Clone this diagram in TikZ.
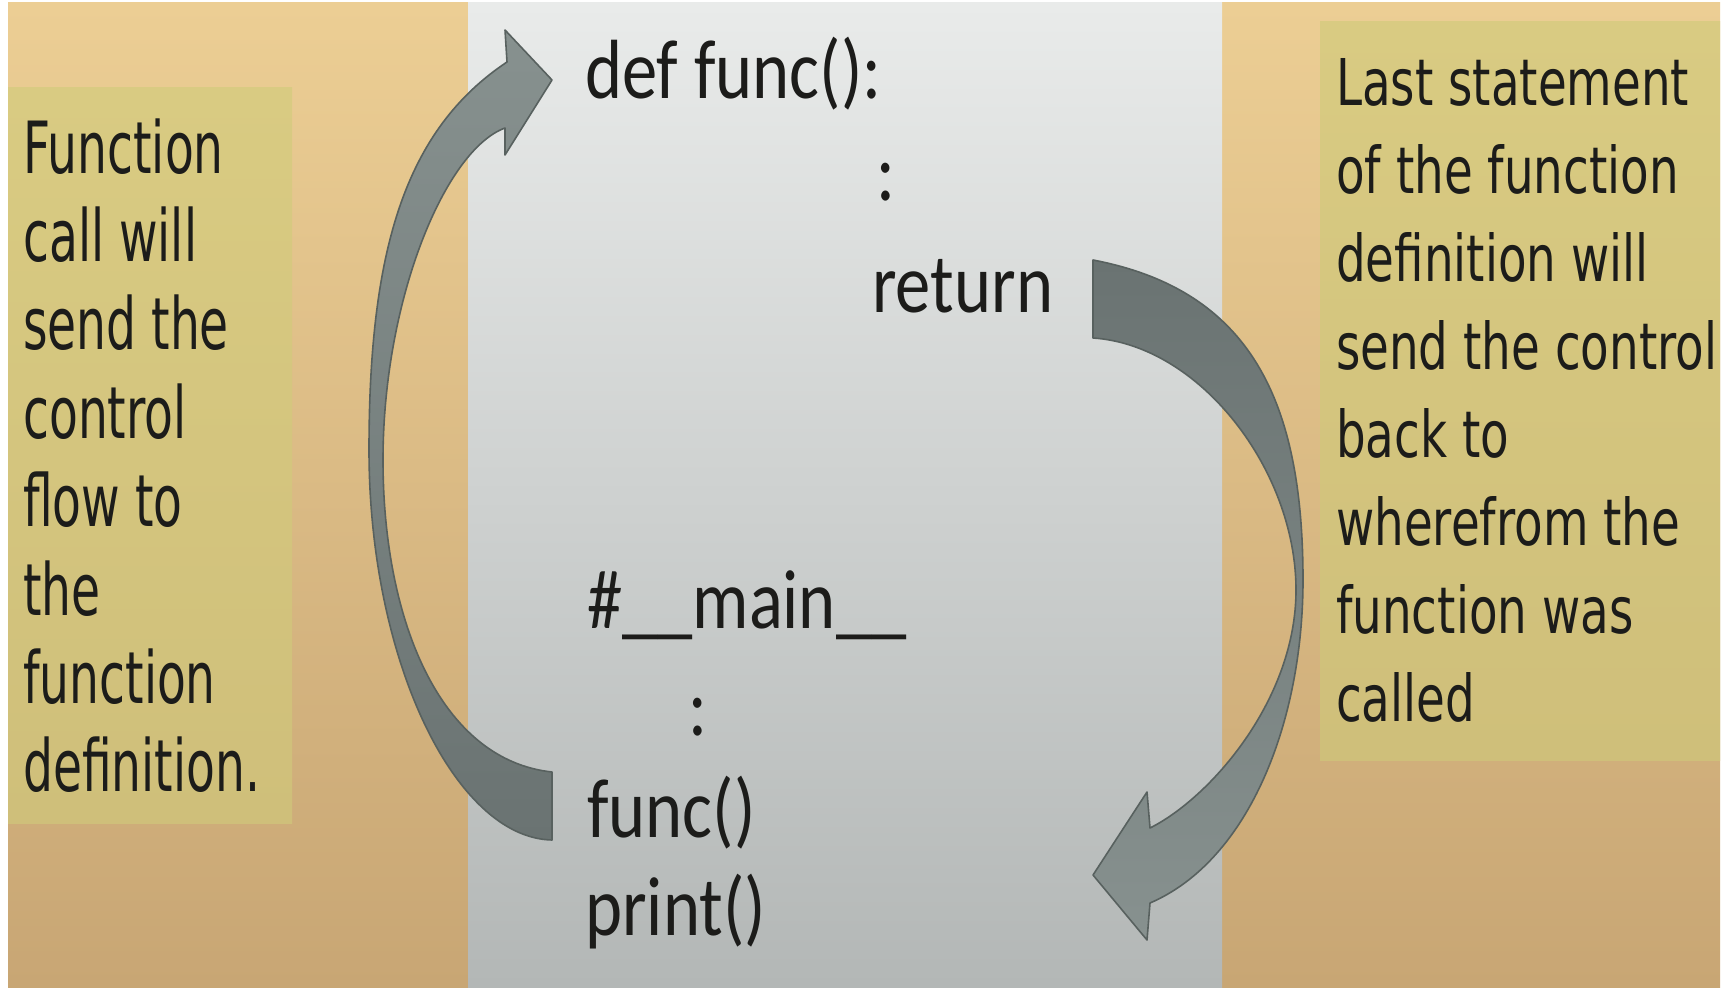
\documentclass[tikz,border=0pt]{standalone}
\usepackage{fontspec}
\newfontfamily\lfont[FakeStretch=0.655]{DejaVu Sans}
\newfontfamily\rfont[FakeStretch=0.725]{DejaVu Sans}
\newfontfamily\cfont[FakeStretch=0.84]{Carlito}
\definecolor{tanTop}{HTML}{ECCE94}
\definecolor{tanBot}{HTML}{C8A674}
\definecolor{oliveTop}{HTML}{D9CB82}
\definecolor{oliveBot}{HTML}{CFBF7A}
\definecolor{panelTop}{HTML}{E9EBEA}
\definecolor{panelBot}{HTML}{B3B7B6}
\definecolor{arrLight}{HTML}{87918F}
\definecolor{arrDark}{HTML}{6A7372}
\definecolor{arrLine}{HTML}{58615F}
\definecolor{txtc}{HTML}{1C1C1A}
\tikzset{
  ltxt/.style={anchor=base west, inner sep=0pt, text=txtc, font=\lfont\fontsize{72}{88}\selectfont},
  rtxt/.style={anchor=base west, inner sep=0pt, text=txtc, font=\rfont\fontsize{64.5}{88}\selectfont},
  ctxt/.style={anchor=base west, inner sep=0pt, text=txtc, font=\cfont\fontsize{84}{100}\selectfont},
  bigarrow/.style={draw=arrLine, line width=1.6pt, line join=round},
}
\begin{document}
\begin{tikzpicture}[x=1pt,y=-1pt]
\useasboundingbox (0,0) rectangle (1729,990);
\fill[white] (0,0) rectangle (1729,990);
% papyrus background
\shade[top color=tanTop, bottom color=tanBot] (8,3) rectangle (1720,987);
% central code panel
\shade[top color=panelTop, bottom color=panelBot] (468,3) rectangle (1222,987);
% side text boxes
\shade[top color=oliveTop, bottom color=oliveBot] (8,87) rectangle (292,823);
\shade[top color=oliveTop, bottom color=oliveBot] (1320,22) rectangle (1720,760);

% left curved arrow (call): tail at func(), head at def func()
\coordinate (lt1) at (552,772);
\coordinate (lt2) at (552,840);
\coordinate (lmo) at (369,450);
\coordinate (lmi) at (383,460);
\coordinate (lsh1) at (507,62);
\coordinate (lsh2) at (505,128);
\shadedraw[bigarrow, top color=arrLight, bottom color=arrDark]
  (lt1) -- (lt2)
  .. controls (455,838) and (369,660) .. (lmo)
  .. controls (369,250) and (405,130) .. (lsh1)
  -- (505,30) -- (552,80) -- (505,155) -- (lsh2)
  .. controls (445,150) and (383,300) .. (lmi)
  .. controls (383,620) and (440,760) .. (lt1)
  -- cycle;

% right curved arrow (return): tail at return, head at func()
\coordinate (rt1) at (1093,338);
\coordinate (rt2) at (1093,260);
\coordinate (rmo) at (1303,580);
\coordinate (rmi) at (1296,590);
\coordinate (rsh1) at (1150,903);
\coordinate (rsh2) at (1150,828);
\shadedraw[bigarrow, top color=arrDark, bottom color=arrLight]
  (rt1) -- (rt2)
  .. controls (1250,290) and (1303,400) .. (rmo)
  .. controls (1303,720) and (1250,860) .. (rsh1)
  -- (1147,940) -- (1093,875) -- (1147,792) -- (rsh2)
  .. controls (1210,798) and (1296,700) .. (rmi)
  .. controls (1296,470) and (1200,345) .. (rt1)
  -- cycle;

% code lines
\node[ctxt] (def)    at (585,99)  {def func():};
\node[ctxt] (dots1)  at (876,200) {:};
\node[ctxt] (ret)    at (872,312) {return};
\node[ctxt] (main)   at (587,628) {\#\_\_main\_\_};
\node[ctxt] (dots2)  at (688,735) {:};
\node[ctxt] (call)   at (587,837) {func()};
\node[ctxt] (prt)    at (585,935) {print()};

% left explanation
\foreach \t [count=\i from 0] in {Function,call will,send the,control,flow to,the,function,definition.}
  \node[ltxt] (L\i) at (23,{173+88.4*\i}) {\t};

% right explanation
\foreach \t [count=\i from 0] in {Last statement,of the function,definition will,send the control,back to,wherefrom the,function was,called}
  \node[rtxt] (R\i) at (1336,{105+88*\i}) {\t};
\end{tikzpicture}
\end{document}
